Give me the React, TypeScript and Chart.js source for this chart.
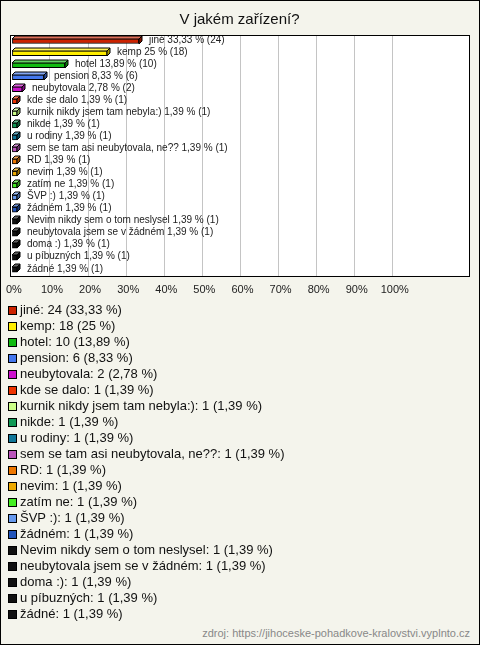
import React, { useEffect, useRef } from "react";
import { Chart, registerables } from "chart.js";

Chart.register(...registerables);

const TITLE = "V jakém zařízení?";
const SOURCE = "zdroj: https://jihoceske-pohadkove-kralovstvi.vyplnto.cz";

const categories = [
  "jiné",
  "kemp",
  "hotel",
  "pension",
  "neubytovala",
  "kde se dalo",
  "kurnik nikdy jsem tam nebyla:)",
  "nikde",
  "u rodiny",
  "sem se tam asi neubytovala, ne??",
  "RD",
  "nevim",
  "zatím ne",
  "ŠVP :)",
  "žádném",
  "Nevim nikdy sem o tom neslysel",
  "neubytovala jsem se v žádném",
  "doma :)",
  "u píbuzných",
  "žádné",
];

const counts = [24, 18, 10, 6, 2, 1, 1, 1, 1, 1, 1, 1, 1, 1, 1, 1, 1, 1, 1, 1];

const percents = [
  33.33, 25, 13.89, 8.33, 2.78, 1.39, 1.39, 1.39, 1.39, 1.39, 1.39, 1.39, 1.39,
  1.39, 1.39, 1.39, 1.39, 1.39, 1.39, 1.39,
];

const colors = [
  "#cc2200",
  "#ffee00",
  "#11bb11",
  "#4477ee",
  "#cc11cc",
  "#ee3300",
  "#ccff88",
  "#119955",
  "#117799",
  "#bb55bb",
  "#ee7700",
  "#eeaa00",
  "#44ee22",
  "#6699ee",
  "#2255bb",
  "#111111",
  "#111111",
  "#111111",
  "#111111",
  "#111111",
];

const xTicks = [0, 10, 20, 30, 40, 50, 60, 70, 80, 90, 100];

const FONT = '"Liberation Sans", Arial, sans-serif';

const fmt = (v: number) => String(v).replace(".", ",");

function shade(hex: string, f: number) {
  const n = parseInt(hex.slice(1), 16);
  let r = (n >> 16) & 255,
    g = (n >> 8) & 255,
    b = n & 255;
  if (f < 0) {
    r = Math.round(r * (1 + f));
    g = Math.round(g * (1 + f));
    b = Math.round(b * (1 + f));
  } else {
    r = Math.round(r + (255 - r) * f);
    g = Math.round(g + (255 - g) * f);
    b = Math.round(b + (255 - b) * f);
  }
  return `rgb(${r},${g},${b})`;
}

const DEPTH = 3;

const bars3d = {
  id: "bars3d",
  afterDatasetsDraw(chart: any) {
    const ctx = chart.ctx;
    const meta = chart.getDatasetMeta(0);
    ctx.save();
    ctx.lineWidth = 1;
    ctx.strokeStyle = "#000";
    meta.data.forEach((el: any, i: number) => {
      const p = el.getProps(["x", "y", "base", "height"], true);
      const x0 = Math.round(p.base);
      const x1 = Math.round(p.x);
      const yt = Math.round(p.y - p.height / 2);
      const yb = Math.round(p.y + p.height / 2);
      const c = colors[i];
      ctx.beginPath();
      ctx.moveTo(x0, yt);
      ctx.lineTo(x0 + DEPTH, yt - DEPTH);
      ctx.lineTo(x1 + DEPTH, yt - DEPTH);
      ctx.lineTo(x1, yt);
      ctx.closePath();
      ctx.fillStyle = shade(c, 0.35);
      ctx.fill();
      ctx.stroke();
      ctx.beginPath();
      ctx.moveTo(x1, yt);
      ctx.lineTo(x1 + DEPTH, yt - DEPTH);
      ctx.lineTo(x1 + DEPTH, yb - DEPTH);
      ctx.lineTo(x1, yb);
      ctx.closePath();
      ctx.fillStyle = shade(c, -0.35);
      ctx.fill();
      ctx.stroke();
      ctx.fillStyle = "#222";
      ctx.font = `10px ${FONT}`;
      ctx.textBaseline = "middle";
      ctx.textAlign = "left";
      ctx.fillText(
        `${categories[i]} ${fmt(percents[i])} % (${counts[i]})`,
        x1 + DEPTH + 7,
        p.y - 1
      );
    });
    ctx.restore();
  },
};

const frame = {
  id: "frame",
  afterDraw(chart: any) {
    const { ctx, chartArea: a } = chart;
    ctx.save();
    ctx.strokeStyle = "#000";
    ctx.lineWidth = 1;
    ctx.strokeRect(
      Math.round(a.left) + 0.5,
      Math.round(a.top) + 0.5,
      Math.round(a.right - a.left),
      Math.round(a.bottom - a.top)
    );
    ctx.restore();
  },
};

const plotBg = {
  id: "plotBg",
  beforeDraw(chart: any) {
    const { ctx, chartArea: a } = chart;
    ctx.save();
    ctx.fillStyle = "#ffffff";
    ctx.fillRect(a.left, a.top, a.right - a.left, a.bottom - a.top);
    ctx.restore();
  },
};

export default function App() {
  const ref = useRef<HTMLCanvasElement | null>(null);

  useEffect(() => {
    document.body.style.margin = "0";
    if (!ref.current) return;
    const chart = new Chart(ref.current, {
      type: "bar",
      data: {
        labels: categories,
        datasets: [
          {
            data: percents,
            backgroundColor: colors,
            borderColor: "#000",
            borderWidth: 1,
            borderSkipped: false,
            barThickness: 5,
          },
        ],
      },
      options: {
        indexAxis: "y",
        animation: false,
        responsive: true,
        maintainAspectRatio: false,
        layout: { padding: { left: 10, right: 11, top: 0, bottom: 0 } },
        plugins: {
          legend: { display: false },
          tooltip: { enabled: false },
          title: {
            display: true,
            text: TITLE,
            color: "#111",
            font: { family: FONT, size: 15, weight: "normal" },
            padding: { top: 11, bottom: 6 },
          },
        },
        scales: {
          x: {
            min: -0.5,
            max: 120,
            afterBuildTicks: (scale: any) => {
              scale.ticks = [...xTicks, 110, 120].map((v) => ({ value: v }));
            },
            afterFit: (scale: any) => {
              scale.paddingLeft = 0;
              scale.paddingRight = 0;
            },
            ticks: {
              callback: (v: any) => (Number(v) <= 100 ? `${v}%` : ""),
              color: "#222",
              font: { family: FONT, size: 11 },
              padding: 8,
              labelOffset: 2,
              maxRotation: 0,
              autoSkip: false,
            },
            grid: {
              drawTicks: false,
              color: (c: any) =>
                c.tick && c.tick.value > 0 && c.tick.value <= 100
                  ? "#c4c4c4"
                  : "rgba(0,0,0,0)",
            },
            border: { display: false },
          },
          y: {
            display: false,
          },
        },
      },
      plugins: [plotBg, bars3d, frame],
    });
    return () => chart.destroy();
  }, []);

  return (
    <div
      style={{
        position: "relative",
        width: 480,
        height: 645,
        background: "#f4f4ec",
        fontFamily: FONT,
        overflow: "hidden",
      }}
    >
      <div style={{ position: "absolute", left: 0, top: 0, width: 480, height: 305 }}>
        <canvas ref={ref} />
      </div>
      <div style={{ position: "absolute", left: 8, top: 302 }}>
        {categories.map((c, i) => (
          <div
            key={i}
            style={{
              height: 16,
              lineHeight: "16px",
              fontSize: 13,
              color: "#111",
              whiteSpace: "nowrap",
              display: "flex",
              alignItems: "center",
            }}
          >
            <span
              style={{
                display: "inline-block",
                width: 7,
                height: 7,
                border: "1px solid #000",
                background: colors[i],
                marginRight: 3,
              }}
            />
            <span>{`${c}: ${counts[i]} (${fmt(percents[i])} %)`}</span>
          </div>
        ))}
      </div>
      <div
        style={{
          position: "absolute",
          right: 10,
          top: 627,
          fontSize: 11,
          color: "#888",
          whiteSpace: "nowrap",
        }}
      >
        {SOURCE}
      </div>
      <div
        style={{
          position: "absolute",
          left: 0,
          top: 0,
          width: 480,
          height: 645,
          boxSizing: "border-box",
          border: "1px solid #000",
          pointerEvents: "none",
        }}
      />
    </div>
  );
}
